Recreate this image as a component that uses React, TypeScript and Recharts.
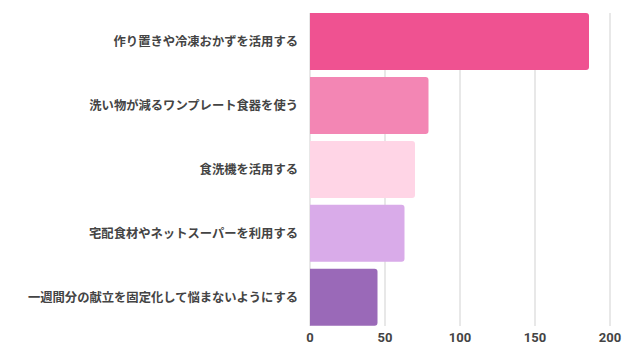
import React from 'react';
import { BarChart, Bar, XAxis, YAxis, CartesianGrid, Cell } from 'recharts';

const categories = [
  '作り置きや冷凍おかずを活用する',
  '洗い物が減るワンプレート食器を使う',
  '食洗機を活用する',
  '宅配食材やネットスーパーを利用する',
  '一週間分の献立を固定化して悩まないようにする',
];
const values = [186, 79, 70, 63, 45];
const colors = ['#EF5291', '#F386B4', '#FFD5E6', '#D9ABE9', '#9A69B8'];
const xTicks = [0, 50, 100, 150, 200];

const data = categories.map((name, i) => ({ name, value: values[i] }));

const font = "Roboto, 'Noto Sans CJK JP', sans-serif";

export default function App() {
  return (
    <div style={{ position: 'absolute', left: 0, top: 0, background: '#fff' }}>
      <BarChart
        width={640}
        height={360}
        data={data}
        layout="vertical"
        margin={{ top: 13, right: 30, bottom: 4, left: 0 }}
        barCategoryGap={3.35}
      >
        <CartesianGrid horizontal={false} stroke="#dcdcdc" strokeWidth={1.3} />
        <XAxis
          type="number"
          domain={[0, 200]}
          ticks={xTicks}
          axisLine={false}
          tickLine={false}
          tickSize={0}
          tickMargin={7}
          height={30}
          tick={{ fill: '#444', fontSize: 13, fontWeight: 700, fontFamily: font }}
        />
        <YAxis
          type="category"
          dataKey="name"
          width={310}
          axisLine={false}
          tickLine={false}
          tickSize={0}
          tickMargin={12}
          padding={{ top: -3.35, bottom: -3.35 }}
          tick={{ fill: '#444', fontSize: 12.3, fontWeight: 700, fontFamily: font }}
          interval={0}
        />
        <Bar dataKey="value" isAnimationActive={false} radius={[0, 3, 3, 0]}>
          {data.map((d, i) => (
            <Cell key={d.name} fill={colors[i]} />
          ))}
        </Bar>
      </BarChart>
    </div>
  );
}
